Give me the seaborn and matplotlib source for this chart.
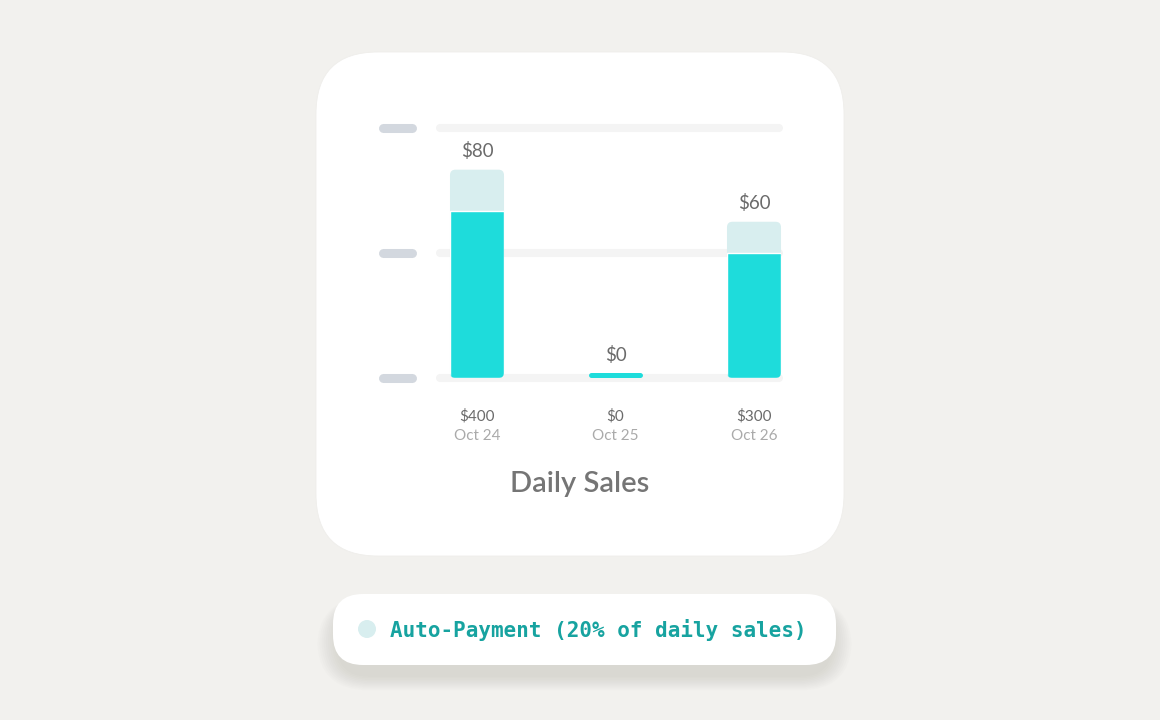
import matplotlib
matplotlib.use("Agg")
import matplotlib.pyplot as plt
import matplotlib.transforms as mtransforms
from matplotlib.patches import FancyBboxPatch, Circle
import seaborn as sns
import pandas as pd

# ---- data ----
dates = ["Oct 24", "Oct 25", "Oct 26"]
daily_sales = [400, 0, 300]
auto_payment = [80, 0, 60]
y_ticks = [0, 240, 480]
title = "Daily Sales"
legend_label = "Auto-Payment (20% of daily sales)"

# ---- colours ----
BG = "#f2f1ee"
TEAL = "#1edcdb"
TEAL_LIGHT = "#d8eeef"
GRID = "#f4f4f4"
PILL = "#d3d8df"
W, H = 1160, 720

sns.set_theme(style="white")
plt.rcParams["font.family"] = ["Lato", "DejaVu Sans"]

fig = plt.figure(figsize=(W / 100, H / 100), dpi=100, facecolor=BG)
ident = mtransforms.IdentityTransform()

def px(x, y):
    return x, H - y

# card
card = FancyBboxPatch(px(316, 556), 844 - 316, 556 - 52,
                      boxstyle="round,pad=0,rounding_size=62",
                      transform=ident, facecolor="white", edgecolor="#efeeeb",
                      linewidth=0.6, zorder=0)
fig.add_artist(card)

# axes placed so value 0 is at y=378 and 480 at y=128
ax_l, ax_r, ax_b, ax_t = 436, 783, 378, 128
ax = fig.add_axes([ax_l / W, (H - ax_b) / H, (ax_r - ax_l) / W, (ax_b - ax_t) / H])
ax.set_facecolor("none")

df = pd.DataFrame({"date": dates, "total": daily_sales,
                   "base": [s - a for s, a in zip(daily_sales, auto_payment)]})

sns.barplot(data=df, x="date", y="total", order=dates, color=TEAL_LIGHT,
            saturation=1, width=0.39, ax=ax, zorder=2)
n_light = len(ax.patches)
sns.barplot(data=df, x="date", y="base", order=dates, color=TEAL,
            saturation=1, width=0.39, ax=ax, zorder=3)

x0 = -0.296
ax.set_xlim(x0, x0 + (ax_r - ax_l) / 138.5)
ax.set_ylim(y_ticks[0], y_ticks[-1])
ax.set_xlabel("")
ax.set_ylabel("")
ax.set_xticks([])
ax.set_yticks([])
for s in ax.spines.values():
    s.set_visible(False)

# rounded bars
px_per_x = 138.5
px_per_y = (ax_b - ax_t) / (y_ticks[-1] - y_ticks[0])
aspect = px_per_x / px_per_y
r = 5.5 / px_per_x
patches = list(ax.patches)
light = patches[:n_light]
dark = patches[n_light:]
rounded = []
for p in light:
    x, y, w, h = p.get_x(), p.get_y(), p.get_width(), p.get_height()
    p.remove()
    if h <= 0:
        rounded.append(None)
        continue
    fb = FancyBboxPatch((x, y), w, h, boxstyle=f"round,pad=0,rounding_size={r}",
                        mutation_aspect=aspect, facecolor=TEAL_LIGHT,
                        edgecolor="none", zorder=2)
    ax.add_patch(fb)
    rounded.append(fb)
for p, fb in zip(dark, rounded):
    if fb is None:
        p.set_visible(False)
    else:
        p.set_clip_path(fb)

# gridlines and tick pills
for v in y_ticks:
    ax.plot([0.012, 0.988], [v, v], transform=ax.get_yaxis_transform(),
            color=GRID, lw=5.8, solid_capstyle="round", clip_on=False, zorder=1)
    trans = mtransforms.blended_transform_factory(ident, ax.transData)
    ax.plot([382.5, 411.5], [v, v], transform=trans, color=PILL, lw=6.5,
            solid_capstyle="round", clip_on=False, zorder=1)

# zero-value markers, value labels and bottom labels
for i, (d, tot, ap) in enumerate(zip(dates, daily_sales, auto_payment)):
    if tot == 0:
        ax.plot([i - 0.195 + 0.02, i + 0.195 - 0.02], [3.5 / px_per_y] * 2,
                color=TEAL, lw=3.6, solid_capstyle="round", clip_on=False, zorder=3)
        off = 23
    else:
        off = 19
    ax.annotate(f"${ap}", (i, tot), xytext=(0, off * 0.72), textcoords="offset points",
                ha="center", va="center", fontsize=13.5, color="#6b6b6b")
    ax.annotate(f"${tot}", (i, 0), xytext=(0, -38 * 0.72), textcoords="offset points",
                ha="center", va="center", fontsize=11, color="#6b6b6b")
    ax.annotate(d, (i, 0), xytext=(0, -58 * 0.72), textcoords="offset points",
                ha="center", va="center", fontsize=11, color="#aaaaaa")

fig.text(580 / W, (H - 484) / H, title, ha="center", va="center",
         fontsize=21, fontweight="semibold", color="#757575")

# legend pill with soft shadow
lx0, ly0, lx1, ly1 = 333, 594, 836, 665
n_sh = 10
for k in range(n_sh):
    grow = (n_sh - k) * 2.2
    sh = FancyBboxPatch((lx0 - grow + 6, H - ly1 - 10 - grow * 0.7),
                        (lx1 - lx0) + 2 * grow - 12, (ly1 - ly0) + grow,
                        boxstyle=f"round,pad=0,rounding_size={30 + grow}",
                        transform=ident, facecolor="#7d7d72", edgecolor="none",
                        alpha=0.018, zorder=0)
    fig.add_artist(sh)
pill = FancyBboxPatch(px(lx0, ly1), lx1 - lx0, ly1 - ly0,
                      boxstyle="round,pad=0,rounding_size=30", transform=ident,
                      facecolor="white", edgecolor="none", zorder=1)
fig.add_artist(pill)
fig.add_artist(Circle(px(367, 629), 9, transform=ident, facecolor=TEAL_LIGHT,
                      edgecolor="none", zorder=2))
fig.text(390 / W, (H - 630) / H, legend_label, ha="left", va="center",
         fontsize=15, fontweight="bold", family=["DejaVu Sans Mono"],
         color="#17a3a0", zorder=3)

fig.savefig("out.png", dpi=100, facecolor=BG)
